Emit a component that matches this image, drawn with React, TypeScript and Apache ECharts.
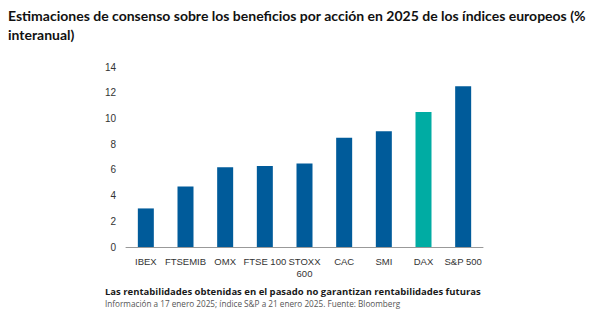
import React, { useEffect, useRef } from "react";
import * as echarts from "echarts";

const categories = ["IBEX", "FTSEMIB", "OMX", "FTSE 100", "STOXX\n600", "CAC", "SMI", "DAX", "S&P 500"];
const values = [3.0, 4.7, 6.2, 6.3, 6.5, 8.5, 9.0, 10.5, 12.5];
const highlight = "DAX";
const yTicks = [0, 2, 4, 6, 8, 10, 12, 14];

const titleLines = [
  "Estimaciones de consenso sobre los beneficios por acción en 2025 de los índices europeos (%",
  "interanual)",
];
const footNote = "Las rentabilidades obtenidas en el pasado no garantizan rentabilidades futuras";
const source = "Información a 17 enero 2025; índice S&P a 21 enero 2025. Fuente: Bloomberg";

export default function App() {
  const ref = useRef<HTMLDivElement>(null);
  useEffect(() => {
    if (!ref.current) return;
    const chart = echarts.init(ref.current, null, { renderer: "svg" });
    chart.setOption({
      animation: false,
      backgroundColor: "#ffffff",
      graphic: [
        {
          type: "text",
          left: 0,
          top: -2,
          style: {
            text: titleLines.join("\n"),
            font: "bold 14px Lato",
            lineHeight: 19,
            fill: "#111",
          },
        },
        {
          type: "text",
          left: 97,
          top: 278,
          style: { text: footNote, font: "bold 9.5px 'Open Sans'", fill: "#1a1a1a" },
        },
        {
          type: "text",
          left: 97,
          top: 291,
          style: { text: source, font: "8.2px 'Open Sans'", fill: "#555" },
        },
      ],
      grid: { left: 118, right: 125, top: 59, bottom: 78, containLabel: false },
      xAxis: {
        type: "category",
        data: categories,
        axisLine: { lineStyle: { color: "#999", width: 1 } },
        axisTick: { show: false },
        axisLabel: {
          color: "#333",
          fontSize: 9.5,
          fontFamily: "Liberation Sans",
          margin: 8,
          lineHeight: 12,
          interval: 0,
        },
      },
      yAxis: {
        type: "value",
        min: 0,
        max: 14,
        interval: 2,
        axisLine: { show: false },
        axisTick: { show: false },
        splitLine: { show: false },
        axisLabel: {
          color: "#333",
          fontSize: 10,
          fontFamily: "Liberation Sans",
          margin: 10,
          customValues: yTicks,
        },
      },
      series: [
        {
          type: "bar",
          barWidth: 16,
          data: values.map((v, i) => ({
            value: v,
            itemStyle: { color: categories[i] === highlight ? "#00aca3" : "#005b9a" },
          })),
        },
      ],
    });
    return () => chart.dispose();
  }, []);
  return <div ref={ref} style={{ width: 600, height: 317 }} />;
}
